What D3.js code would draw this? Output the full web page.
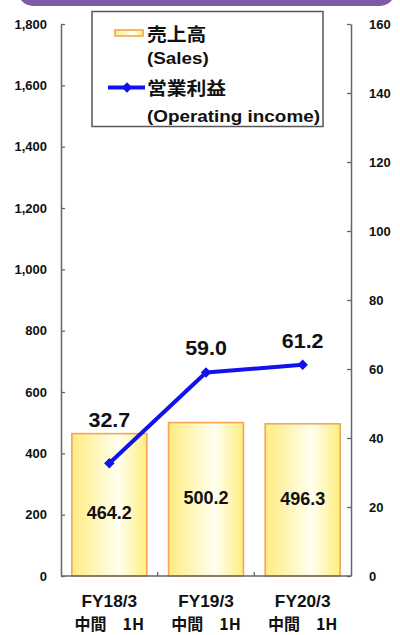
<!DOCTYPE html>
<html><head><meta charset="utf-8">
<script src="https://cdn.jsdelivr.net/npm/d3@7"></script>
<style>
html,body{margin:0;padding:0;background:#fff;}
svg{display:block;}
text{font-family:"Liberation Sans",Arial,"Noto Sans CJK JP",sans-serif;fill:#111;}
.cjk{font-family:"Noto Sans CJK JP","Liberation Sans",sans-serif;}
</style></head>
<body>
<script>
const categories = ["FY18/3", "FY19/3", "FY20/3"];
const periodLabels = ["中間\u30001H", "中間\u30001H", "中間\u30001H"];
const sales = [464.2, 500.2, 496.3];
const operatingIncome = [32.7, 59.0, 61.2];
const leftTicks = [0, 200, 400, 600, 800, 1000, 1200, 1400, 1600, 1800];
const rightTicks = [0, 20, 40, 60, 80, 100, 120, 140, 160];
const legendSalesJa = "売上高", legendSalesEn = "(Sales)";
const legendIncomeJa = "営業利益", legendIncomeEn = "(Operating income)";

const W = 400, H = 635;
const svg = d3.select("body").append("svg").attr("width", W).attr("height", H);

// top decorative band
svg.append("rect").attr("x", 18).attr("y", -30).attr("width", 377).attr("height", 36)
  .attr("rx", 15).attr("fill", "#7c5aa6");

const x0 = 61, x1 = 351, yTop = 24, yBot = 576;
const x = d3.scaleBand().domain(categories).range([x0, x1]).paddingInner(0.225).paddingOuter(0.1125);
const yL = d3.scaleLinear().domain([0, 1800]).range([yBot, yTop]);
const yR = d3.scaleLinear().domain([0, 160]).range([yBot, yTop]);

const defs = svg.append("defs");
const grad = defs.append("linearGradient").attr("id", "barGrad").attr("x1", "0%").attr("x2", "100%");
grad.append("stop").attr("offset", "0%").attr("stop-color", "#ffec80");
grad.append("stop").attr("offset", "62%").attr("stop-color", "#fffff0");
grad.append("stop").attr("offset", "100%").attr("stop-color", "#ffee80");

// bars
svg.append("g").selectAll("rect").data(sales).join("rect")
  .attr("x", (d, i) => x(categories[i]))
  .attr("y", d => yL(d))
  .attr("width", x.bandwidth())
  .attr("height", d => yBot - yL(d))
  .attr("fill", "url(#barGrad)")
  .attr("stroke", "#f3a455").attr("stroke-width", 1.6);

// axes
const axisColor = "#666";
const gl = svg.append("g").attr("transform", `translate(${x0},0)`)
  .call(d3.axisLeft(yL).tickValues(leftTicks).tickSizeInner(-4).tickSizeOuter(0).tickFormat(d3.format(",")).tickPadding(14));
const gr = svg.append("g").attr("transform", `translate(${x1},0)`)
  .call(d3.axisRight(yR).tickValues(rightTicks).tickSizeInner(-4).tickSizeOuter(0).tickPadding(18));
[gl, gr].forEach(g => {
  g.select(".domain").attr("stroke", axisColor).attr("stroke-width", 1.5);
  g.selectAll(".tick line").attr("stroke", axisColor).attr("stroke-width", 1.3);
  g.selectAll(".tick text").attr("font-size", 13).attr("font-weight", "bold")
    .attr("font-family", "'Liberation Sans',Arial,sans-serif").attr("fill", "#111");
});

// bottom axis
svg.append("line").attr("x1", x0).attr("x2", x1).attr("y1", yBot).attr("y2", yBot)
  .attr("stroke", axisColor).attr("stroke-width", 1.5);
const bounds = categories.slice(1).map(c => x(c) - x.step() * x.paddingInner() / 2);
svg.append("g").selectAll("line").data(bounds).join("line")
  .attr("x1", d => d).attr("x2", d => d).attr("y1", yBot).attr("y2", yBot - 4)
  .attr("stroke", axisColor).attr("stroke-width", 1.3);

// category labels
const cx = c => x(c) + x.bandwidth() / 2;
svg.append("g").selectAll("text").data(categories).join("text")
  .attr("transform", d => `translate(${cx(d)},607) scale(1.08,1)`)
  .attr("text-anchor", "middle").attr("font-size", 16).attr("font-weight", "bold").text(d => d);
svg.append("g").selectAll("text").data(periodLabels).join("text")
  .attr("class", "cjk")
  .attr("transform", (d, i) => `translate(${cx(categories[i])},630)`)
  .attr("text-anchor", "middle").attr("font-size", 16).attr("font-weight", "bold").text(d => d);

// line
const lineColor = "#1212ee";
const pts = operatingIncome.map((v, i) => [cx(categories[i]), yR(v)]);
svg.append("path").attr("d", d3.line()(pts)).attr("fill", "none")
  .attr("stroke", lineColor).attr("stroke-width", 4).attr("stroke-linejoin", "round");
svg.append("g").selectAll("path").data(pts).join("path")
  .attr("d", d3.symbol(d3.symbolSquare, 55)())
  .attr("transform", d => `translate(${d[0]},${d[1]}) rotate(45)`)
  .attr("fill", lineColor);

// sales labels (centered in bars; nudged down when the line marker sits inside the bar)
svg.append("g").selectAll("text").data(sales).join("text")
  .attr("transform", (d, i) => {
    const mid = (yL(d) + yBot) / 2;
    const inside = yR(operatingIncome[i]) > yL(d);
    return `translate(${cx(categories[i])},${mid + (inside ? 14 : 5)})`;
  })
  .attr("text-anchor", "middle").attr("font-size", 18).attr("font-weight", "bold")
  .text(d => d.toFixed(1));

// income labels (above point, or above the bar if point lies inside bar)
svg.append("g").selectAll("text").data(operatingIncome).join("text")
  .attr("transform", (d, i) => {
    const py = yR(d), by = yL(sales[i]);
    const ty = py > by ? by - 7 : py - 17;
    return `translate(${cx(categories[i])},${ty}) scale(1.1,1)`;
  })
  .attr("text-anchor", "middle").attr("font-size", 19.5).attr("font-weight", "bold")
  .text(d => d.toFixed(1));

// legend
const lg = svg.append("g");
lg.append("rect").attr("x", 92).attr("y", 11.5).attr("width", 231).attr("height", 115)
  .attr("fill", "#fff").attr("stroke", "#555").attr("stroke-width", 1.5);
lg.append("rect").attr("x", 115).attr("y", 30).attr("width", 28).attr("height", 6)
  .attr("fill", "url(#barGrad)").attr("stroke", "#f3a455").attr("stroke-width", 1.6);
lg.append("line").attr("x1", 108).attr("x2", 145).attr("y1", 87.5).attr("y2", 87.5)
  .attr("stroke", lineColor).attr("stroke-width", 4);
lg.append("path").attr("d", d3.symbol(d3.symbolSquare, 55)())
  .attr("transform", "translate(127,87.5) rotate(45)").attr("fill", lineColor);
const ltext = [
  {t: legendSalesJa, y: 40.5, cjk: true},
  {t: legendSalesEn, y: 63.5, cjk: false},
  {t: legendIncomeJa, y: 95, cjk: true},
  {t: legendIncomeEn, y: 121.5, cjk: false}
];
lg.selectAll("text.l").data(ltext).join("text")
  .attr("class", d => d.cjk ? "l cjk" : "l")
  .attr("transform", d => `translate(147,${d.y}) scale(${d.cjk ? 1.1 : 1.18},1)`)
  .attr("font-size", d => d.cjk ? 18 : 16).attr("font-weight", "bold")
  .text(d => d.t);
</script>
</body></html>
